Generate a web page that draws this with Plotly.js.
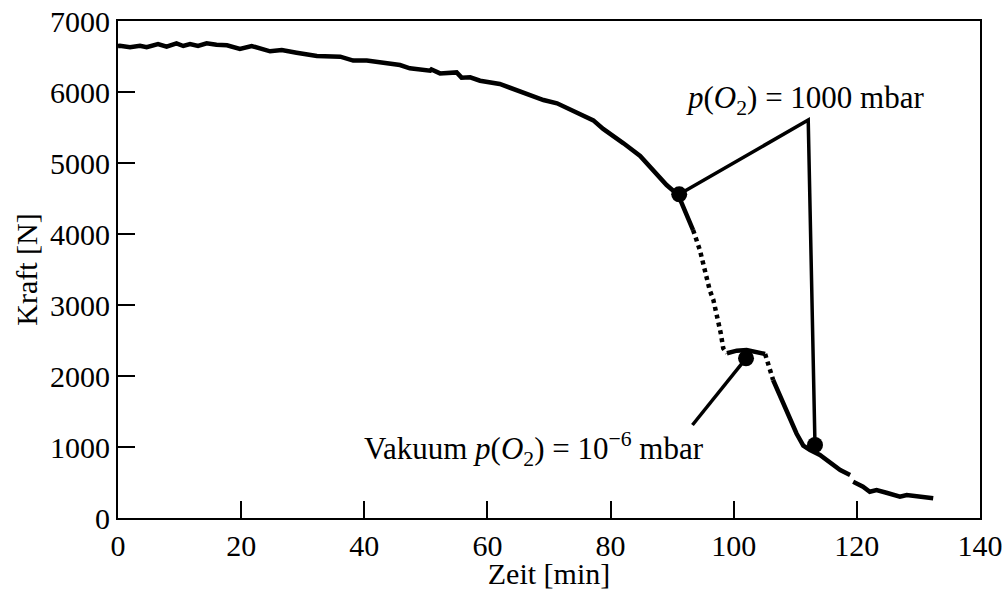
<!DOCTYPE html>
<html>
<head>
<meta charset="utf-8">
<script src="https://cdn.plot.ly/plotly-3.0.1.min.js"></script>
<style>html,body{margin:0;padding:0;background:#fff;}#chart{width:1006px;height:590px;}</style>
</head>
<body>
<div id="chart"></div>
<script>
// Solid parts of the force curve (null = gap)
const zeit = [0, 0.3, 1.95, 3.57, 4.66, 6.5, 7.9, 9.5, 10.6, 11.7, 13.0, 14.4, 16.0, 17.7, 19.8, 21.7, 24.7, 26.6, 29.0, 32.3, 36.1, 38.2, 40.4, 44.2, 45.8, 47.4, 50.7, 50.9, 52.3, 55.0, 55.8, 57.2, 58.8, 62.0, 64.8, 66.9, 69.1, 71.3, 73.4, 75.0, 77.2, 78.8, 80.4, 82.1, 84.8, 86.9, 89.1, 91.0, 92.1, 93.4,
  null,
  98.9, 100.5, 102.1, 103.7, 105.1,
  null,
  106.4, 107.0, 107.8, 108.6, 109.4, 110.2, 111.3, 112.4, 114.0, 115.6, 117.3, 118.9,
  null,
  119.4, 121.0, 122.1, 123.2, 124.8, 127.0, 128.1, 130.3, 132.4];
const kraft = [6648, 6650, 6630, 6652, 6630, 6676, 6638, 6686, 6648, 6676, 6648, 6686, 6666, 6657, 6606, 6648, 6573, 6592, 6554, 6507, 6498, 6442, 6442, 6394, 6380, 6333, 6300, 6318, 6262, 6276, 6202, 6206, 6159, 6113, 6028, 5958, 5887, 5841, 5761, 5690, 5600, 5480, 5390, 5277, 5100, 4900, 4690, 4549, 4335, 4056,
  null,
  2320, 2357, 2366, 2343, 2310,
  null,
  1944, 1827, 1660, 1500, 1330, 1190, 1020, 958, 887, 793, 676, 606,
  null,
  511, 441, 370, 394, 356, 300, 324, 292, 277];

// Sparse (dotted) parts of the curve
const zeitPunkte = [93.4, 94.0, 94.5, 95.3, 96.1, 96.7, 97.5, 97.9, 98.3, 98.9, null, 105.1, 105.5, 105.8, 106.2, 106.4];
const kraftPunkte = [4056, 3900, 3775, 3493, 3211, 3070, 2789, 2601, 2390, 2320, null, 2310, 2202, 2120, 2038, 1944];

// Marked points
const markerZeit = [91.15, 102.0, 113.2];
const markerKraft = [4559, 2249, 1028];

// Leader lines for the labels
const leader1Zeit = [91.15, 112.1, 113.2];
const leader1Kraft = [4559, 5606, 1028];
const leader2Zeit = [102.0, 93.3];
const leader2Kraft = [2249, 1310];

const xTicks = [0, 20, 40, 60, 80, 100, 120, 140];
const yTicks = [0, 1000, 2000, 3000, 4000, 5000, 6000, 7000];

const labelO2 = '<i>p</i>(<i>O</i><sub>2</sub>) = 1000 mbar';
const labelVak = 'Vakuum <i>p</i>(<i>O</i><sub>2</sub>) = 10<sup>−6</sup> mbar';

const font = 'Liberation Serif';

const traces = [
  {x: zeit, y: kraft, mode: 'lines', line: {color: '#000', width: 4.5}, connectgaps: false, hoverinfo: 'skip'},
  {x: zeitPunkte, y: kraftPunkte, mode: 'lines', line: {color: '#000', width: 4.5, dash: '4px,4px'}, connectgaps: false, hoverinfo: 'skip'},
  {x: leader1Zeit, y: leader1Kraft, mode: 'lines', line: {color: '#000', width: 3.5}},
  {x: leader2Zeit, y: leader2Kraft, mode: 'lines', line: {color: '#000', width: 3.5}},
  {x: markerZeit, y: markerKraft, mode: 'markers', marker: {color: '#000', size: 16}}
];

const layout = {
  width: 1006, height: 590,
  margin: {l: 118, r: 26, t: 21, b: 72},
  showlegend: false,
  paper_bgcolor: '#fff', plot_bgcolor: '#fff',
  font: {family: font, size: 30, color: '#000'},
  xaxis: {
    range: [0, 140], tickvals: xTicks, ticktext: xTicks.map(String),
    ticks: 'inside', ticklen: 17, tickwidth: 2, tickcolor: '#000',
    showline: true, linewidth: 2, linecolor: '#000', mirror: true,
    showgrid: false, zeroline: false,
    tickfont: {family: font, size: 30},
    title: {text: 'Zeit [min]', font: {family: font, size: 30}, standoff: 0}
  },
  yaxis: {
    range: [0, 7000], tickvals: yTicks, ticktext: yTicks.map(String),
    ticks: 'inside', ticklen: 17, tickwidth: 2, tickcolor: '#000',
    showline: true, linewidth: 2, linecolor: '#000', mirror: true,
    showgrid: false, zeroline: false,
    tickfont: {family: font, size: 30},
    title: {text: 'Kraft [N]', font: {family: font, size: 30}, standoff: 4}
  },
  annotations: [
    {x: 111.5, y: 5887, xref: 'x', yref: 'y', text: labelO2, showarrow: false, font: {family: font, size: 31}, xanchor: 'center', yanchor: 'middle'},
    {x: 67.6, y: 970, xref: 'x', yref: 'y', text: labelVak, showarrow: false, font: {family: font, size: 31}, xanchor: 'center', yanchor: 'middle'}
  ]
};

Plotly.newPlot('chart', traces, layout, {displayModeBar: false, staticPlot: true});
</script>
</body>
</html>
